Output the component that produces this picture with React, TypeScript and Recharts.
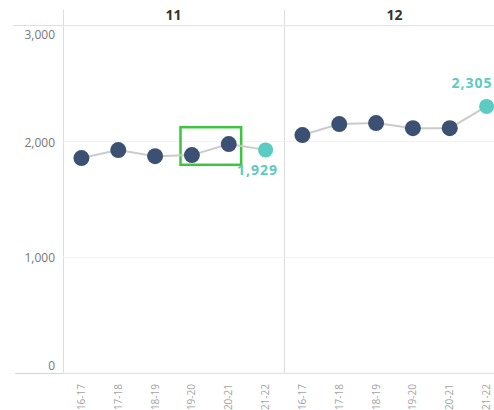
import React from "react";
import { LineChart, Line, XAxis, YAxis, CartesianGrid, ReferenceArea, LabelList } from "recharts";

const periods = ["16-17", "17-18", "18-19", "19-20", "20-21", "21-22"];
const grade11 = [1858, 1927, 1875, 1884, 1979, 1929];
const grade12 = [2057, 2152, 2161, 2117, 2117, 2305];
const panelNames = ["11", "12"];
const yTicks = [0, 1000, 2000, 3000];
// highlighted box in the first panel: [from period, to period, low, high]
const highlight = ["19-20", "20-21", 1800, 2125] as const;

const NAVY = "#3b5073";
const TEAL = "#5ccbc2";
const LINE = "#cbcbcb";
const FONT = "'Open Sans', sans-serif";

const fmt = (v: number) => v.toLocaleString("en-US");

const toRows = (vals: number[]) => periods.map((p, i) => ({ period: p, value: vals[i] }));

const YTick = (props: any) => {
  const { x, y, payload } = props;
  const v = payload.value;
  let dy = 5;
  if (v === 3000) dy = 13;
  if (v === 0) dy = -3;
  return (
    <text x={x} y={y + dy} textAnchor="end" fontSize={12} fill="#777" fontFamily={FONT}>
      {fmt(v)}
    </text>
  );
};

const XTick = (props: any) => {
  const { x, y, payload } = props;
  return (
    <g transform={`translate(${x},${y + 3})`}>
      <text transform="rotate(-90)" textAnchor="end" dy="0.35em" fontSize={10} fill="#a3a3a3" fontFamily={FONT}>
        {payload.value}
      </text>
    </g>
  );
};

const Dot = (props: any) => {
  const { cx, cy, index } = props;
  const last = index === periods.length - 1;
  return <circle key={index} cx={cx} cy={cy} r={last ? 7.5 : 8} fill={last ? TEAL : NAVY} />;
};

const makeLabel = (below: boolean) => (props: any) => {
  const { x, y, value, index } = props;
  if (index !== periods.length - 1) return null;
  return (
    <text
      x={below ? x - 8 : x + 6}
      y={below ? y + 25 : y - 18}
      textAnchor={below ? "middle" : "end"}
      fontSize={14}
      fontWeight={700}
      letterSpacing={1}
      fill={TEAL}
      fontFamily={FONT}
    >
      {fmt(value)}
    </text>
  );
};

const hLine = (top: number, left: number, color: string) => (
  <div style={{ position: "absolute", top, left, width: 494 - left, height: 1, background: color }} />
);
const vLine = (left: number) => (
  <div style={{ position: "absolute", top: 10, left, width: 1, height: 363, background: "#dcdcdc" }} />
);

export default function App() {
  return (
    <div
      style={{
        position: "absolute",
        left: 0,
        top: 0,
        width: 494,
        height: 410,
        overflow: "hidden",
        background: "#fff",
        fontFamily: FONT,
      }}
    >
      {hLine(25, 13, "#dedede")}
      {hLine(373, 15, "#d4d4d4")}
      {vLine(63)}
      {vLine(284)}
      {panelNames.map((name, i) => (
        <div
          key={name}
          style={{
            position: "absolute",
            top: 7,
            left: 63 + i * 221,
            width: 221,
            textAlign: "center",
            fontSize: 14,
            fontWeight: 700,
            color: "#333",
            lineHeight: "16px",
          }}
        >
          {name}
        </div>
      ))}

      <div style={{ position: "absolute", left: 0, top: 0 }}>
        <LineChart
          width={284}
          height={410}
          data={toRows(grade11)}
          margin={{ top: 26, right: 0, bottom: 0, left: 0 }}
          style={{ overflow: "visible" }}
        >
          <CartesianGrid horizontal vertical={false} stroke="#f1f1f1" />
          <XAxis
            dataKey="period"
            scale="band"
            height={37}
            interval={0}
            tick={<XTick />}
            tickLine={false}
            axisLine={false}
          />
          <YAxis
            width={63}
            domain={[0, 3000]}
            ticks={yTicks}
            tick={<YTick />}
            tickLine={false}
            axisLine={false}
          />
          <ReferenceArea
            x1={highlight[0]}
            x2={highlight[1]}
            y1={highlight[2]}
            y2={highlight[3]}
            shape={(p: any) => (
              <rect x={p.x + 7} y={p.y} width={p.width - 13} height={p.height} fill="none" stroke="#3ec43e" strokeWidth={2.5} />
            )}
          />
          <Line dataKey="value" stroke={LINE} strokeWidth={2} dot={<Dot />} activeDot={false} isAnimationActive={false}>
            <LabelList dataKey="value" content={makeLabel(true)} />
          </Line>
        </LineChart>
      </div>

      <div style={{ position: "absolute", left: 284, top: 0 }}>
        <LineChart
          width={221}
          height={410}
          data={toRows(grade12)}
          margin={{ top: 26, right: 0, bottom: 0, left: 0 }}
          style={{ overflow: "visible" }}
        >
          <CartesianGrid horizontal vertical={false} stroke="#f1f1f1" />
          <XAxis
            dataKey="period"
            scale="band"
            height={37}
            interval={0}
            tick={<XTick />}
            tickLine={false}
            axisLine={false}
          />
          <YAxis hide domain={[0, 3000]} ticks={yTicks} />
          <Line dataKey="value" stroke={LINE} strokeWidth={2} dot={<Dot />} activeDot={false} isAnimationActive={false}>
            <LabelList dataKey="value" content={makeLabel(false)} />
          </Line>
        </LineChart>
      </div>
    </div>
  );
}
